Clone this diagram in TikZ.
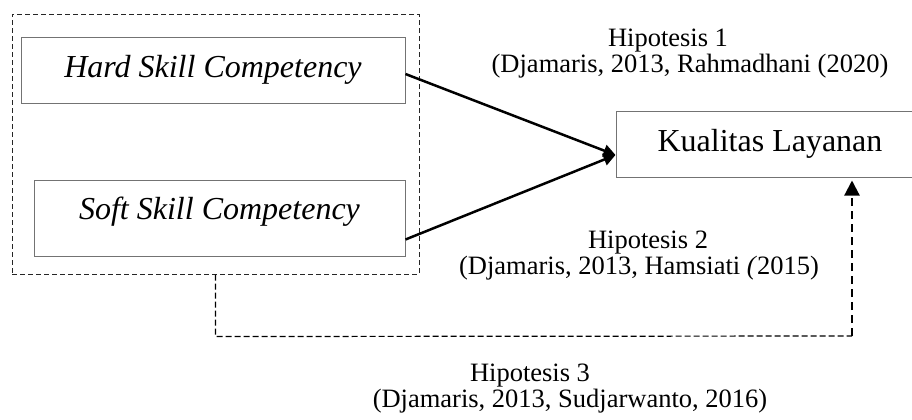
\documentclass[tikz,border=0pt]{standalone}
\usepackage{fontspec}
\setmainfont{Liberation Serif}
\usetikzlibrary{arrows.meta,calc}
\begin{document}
\begin{tikzpicture}[x=0.5pt,y=-0.5pt,
  box/.style={draw=black!55, line width=0.5pt, inner sep=0pt, font=\fontsize{16}{19}\selectfont},
  grpbox/.style={draw=black!85, line width=0.5pt, dash pattern=on 2.5pt off 1.5pt, inner sep=0pt},
  lbl/.style={inner sep=0pt, anchor=base, font=\fontsize{13.25}{16}\selectfont},
  conn/.style={line width=1.25pt, -{Triangle[length=6pt,width=6pt]}},
  thindash/.style={line width=0.6pt, dash pattern=on 3pt off 1.5pt},
  thickdash/.style={line width=1.1pt, dash pattern=on 4pt off 2.5pt, -{Triangle[length=7.5pt,width=7.5pt]}}
]
\path[use as bounding box] (0,0) rectangle (912,419);

% group box and inner boxes
\node[grpbox, minimum width=203.5pt, minimum height=130pt] (grp) at (215.5,144) {};
\node[box, minimum width=192pt, minimum height=33pt] (hard) at (213,70) {\itshape Hard Skill Competency};
\node[box, minimum width=185.5pt, minimum height=38pt, text depth=10pt] (soft) at (219.5,218) {\itshape Soft Skill Competency};
\node[box, minimum width=154pt, minimum height=33pt] (kual) at (770,144) {Kualitas Layanan};

% labels
\node[lbl] (h1a) at (668,46) {Hipotesis 1};
\node[lbl] (h1b) at (690,72) {(Djamaris, 2013, Rahmadhani (2020)};
\node[lbl] (h2a) at (648,248) {Hipotesis 2};
\node[lbl] (h2b) at (639,274) {(Djamaris, 2013, Hamsiati \textit{(}2015)};
\node[lbl] (h3a) at (530,381) {Hipotesis 3};
\node[lbl] (h3b) at (570,407) {(Djamaris, 2013, Sudjarwanto, 2016)};

% connectors
\coordinate (tip) at ($(kual.west)+(0,11)$);
\draw[conn] ($(hard.east)+(0,4)$) -- (tip);
\draw[conn] ($(soft.south east)+(0,-17)$) -- (tip);

\coordinate (c1) at ($(grp.south)+(0,62)$);
\coordinate (c2) at (852,336);
\draw[thindash] (grp.south) -- (c1) -- (c2);
\draw[thickdash] (c2) -- ($(c2 |- kual.south)+(0,3)$);
\end{tikzpicture}
\end{document}
